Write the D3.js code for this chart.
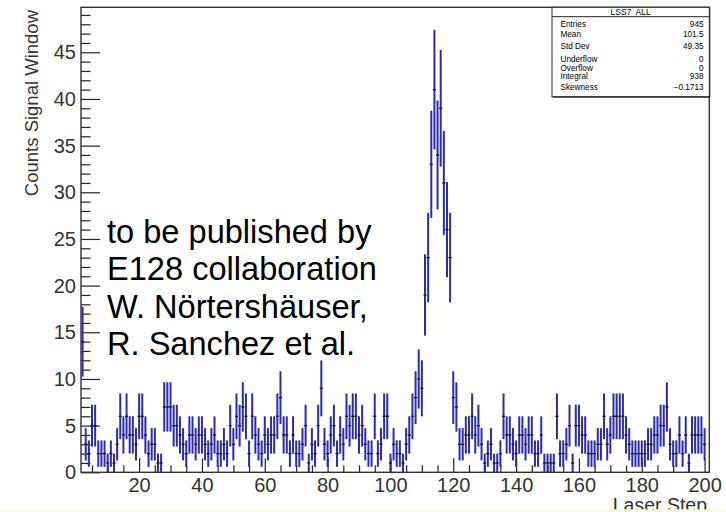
<!DOCTYPE html>
<html><head><meta charset="utf-8">
<script src="https://cdn.jsdelivr.net/npm/d3@7"></script>
<style>body{margin:0;background:#fff}svg{display:block}text{font-family:"Liberation Sans",Arial,sans-serif}</style>
</head><body>
<svg id="c" width="726" height="512"></svg>
<script>
// ---- data ----
const binStart = 2; // first bin centre (Laser Step)
const counts = [
 14,3,2,5,5,2,2,2,1,2,1,3,6,4,6,4,4,3,6,6,4,2,3,3,1,1,7,7,7,5,5,4,3,2,4,4,3,4,4,3,2,3,4,2,2,3,2,5,3,6,5,7,6,2,6,4,3,2,4,3,4,
 4,6,8,4,4,2,4,2,2,3,5,1,3,2,5,9,3,2,4,5,2,4,3,6,5,6,6,4,5,3,2,2,6,2,3,6,6,1,3,2,2,
 1,3,4,6,8,10,9,19,23,33,41,34,39,31,26,23,8,7,3,3,4,
 4,6,4,5,3,1,2,3,1,1,2,6,4,4,3,2,4,4,3,4,4,2,2,4,1,1,1,1,6,2,2,3,5,1,5,5,4,4,2,2,2,3,3,6,3,4,6,6,6,6,4,3,2,2,2,2,2,3,3,4,4,5,5,7,3,2,2,4,2,4,1,4,4,4,4,3
];
const xDomain = [1.5, 201.5];
const yDomain = [0, 49.82];
const xMajor = [20,40,60,80,100,120,140,160,180,200];
const yMajor = [0,5,10,15,20,25,30,35,40,45];
const statsTitle = "LSS7  ALL";
const statsLabels = ["Entries","Mean","Std Dev","Underflow","Overflow","Integral","Skewness"];
const statsValues = ["945","101.5","49.35","0","0","938","\u22120.1713"];
const noteLines = ["to be published by","E128 collaboration","W. N\u00f6rtersh\u00e4user,","R. Sanchez et al."];
const xTitle = "Laser Step", yTitle = "Counts Signal Window";

// ---- layout ----
const L = 81, R = 709.3, T = 7.3, B = 472.3;
const svg = d3.select("#c");
const x = d3.scaleLinear().domain(xDomain).range([L, R]);
const y = d3.scaleLinear().domain(yDomain).range([B, T]);

const data = counts.map((c, i) => ({bin: binStart + i, v: c}));

// axes
const yMinor = d3.range(1, 50).filter(v => v % 5 !== 0);
const xMinor = d3.range(5, 201, 5).filter(v => v % 20 !== 0);
const gy = svg.append("g").attr("transform", `translate(${L},0)`);
gy.call(d3.axisLeft(y).tickValues(yMajor).tickSize(-19).tickPadding(5));
gy.append("g").call(d3.axisLeft(y).tickValues(yMinor).tickSize(-9.5).tickFormat(""));
const gx = svg.append("g").attr("transform", `translate(0,${B})`);
gx.call(d3.axisBottom(x).tickValues(xMajor).tickSize(-14).tickPadding(5.5));
gx.append("g").call(d3.axisBottom(x).tickValues(xMinor).tickSize(-7).tickFormat(""));
svg.selectAll(".domain").remove();
svg.selectAll(".tick line").attr("stroke", "#222").attr("stroke-width", 1.2);
svg.selectAll(".tick text").attr("font-size", 20).attr("fill", "#333").attr("font-family", "Liberation Sans, Arial, sans-serif");

// data: error bars
const g = svg.append("g");
const nz = data.filter(d => d.v > 0);
g.selectAll("line.eb").data(nz).join("line").attr("class", "eb")
  .attr("x1", d => x(d.bin)).attr("x2", d => x(d.bin))
  .attr("y1", d => y(d.v - Math.sqrt(d.v))).attr("y2", d => y(d.v + Math.sqrt(d.v)))
  .attr("stroke", "#2a2ab4").attr("stroke-width", 2);
g.selectAll("line.hm").data(nz).join("line").attr("class", "hm")
  .attr("x1", d => x(d.bin - 0.5)).attr("x2", d => x(d.bin + 0.5))
  .attr("y1", d => y(d.v)).attr("y2", d => y(d.v))
  .attr("stroke", "#111").attr("stroke-width", 1.2);

// frame
svg.append("rect").attr("x", L).attr("y", T).attr("width", R - L).attr("height", B - T)
  .attr("fill", "none").attr("stroke", "#333").attr("stroke-width", 1.4);

// stats box
const sb = {x0: 552, x1: R, y0: T, y1: 96.7};
svg.append("rect").attr("x", sb.x0 + 1).attr("y", sb.y0 + 1).attr("width", sb.x1 - sb.x0).attr("height", sb.y1 - sb.y0).attr("fill", "#222");
svg.append("rect").attr("x", sb.x0).attr("y", sb.y0).attr("width", sb.x1 - sb.x0).attr("height", sb.y1 - sb.y0)
  .attr("fill", "#fff").attr("stroke", "#222").attr("stroke-width", 1);
svg.append("line").attr("x1", sb.x0).attr("x2", sb.x1).attr("y1", 16.7).attr("y2", 16.7).attr("stroke", "#222");
svg.append("text").attr("x", (sb.x0 + sb.x1) / 2).attr("y", 15).attr("text-anchor", "middle")
  .attr("font-size", 8.5).attr("xml:space", "preserve").text(statsTitle);
const rowY = [27, 37, 48.5, 62, 71.2, 79.2, 90];
statsLabels.forEach((s, i) => {
  svg.append("text").attr("x", 560.5).attr("y", rowY[i]).attr("font-size", 8.2).text(s);
  svg.append("text").attr("x", 703.5).attr("y", rowY[i]).attr("font-size", 8.2).attr("text-anchor", "end").text(statsValues[i]);
});

// annotation
noteLines.forEach((s, i) => {
  svg.append("text").attr("x", 107).attr("y", 243 + i * 37.3).attr("font-size", 32.6).attr("fill", "#000").text(s);
});

// titles
svg.append("text").attr("transform", "translate(37.5,10) rotate(-90)").attr("text-anchor", "end")
  .attr("font-size", 18.5).attr("fill", "#333").text(yTitle);
svg.append("text").attr("x", 707).attr("y", 511.5).attr("text-anchor", "end")
  .attr("font-size", 19.5).attr("fill", "#333").text(xTitle);

// bottom band
svg.append("rect").attr("x", 0).attr("y", 509.3).attr("width", 726).attr("height", 3).attr("fill", "#fefedc");
</script>
</body></html>
